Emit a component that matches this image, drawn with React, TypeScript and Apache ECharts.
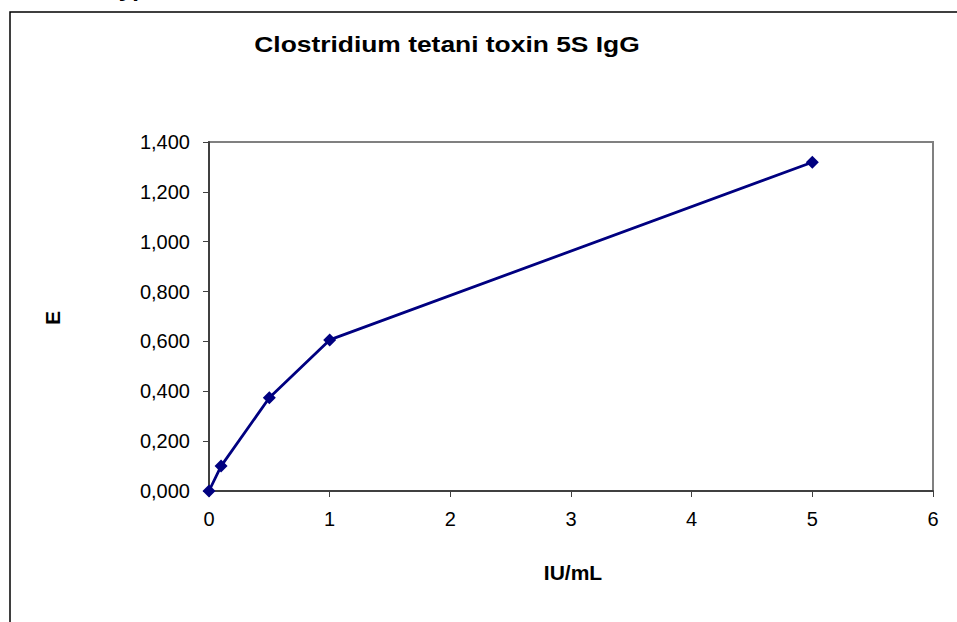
import React, { useEffect, useRef } from "react";
import * as echarts from "echarts";

const title = "Clostridium tetani toxin 5S IgG";
const xName = "IU/mL";
const yName = "E";
const concentrations = [0, 0.1, 0.5, 1, 5];
const absorbance = [0.0, 0.1, 0.374, 0.606, 1.319];

export default function App() {
  const ref = useRef<HTMLDivElement>(null);
  useEffect(() => {
    if (!ref.current) return;
    const chart = echarts.init(ref.current, null, { renderer: "svg" });
    const font = "Arial, 'Liberation Sans', sans-serif";
    chart.setOption({
      animation: false,
      backgroundColor: "#ffffff",
      grid: {
        left: 209,
        top: 142,
        width: 724,
        height: 349,
        show: true,
        borderColor: "#808080",
        borderWidth: 2,
        backgroundColor: "transparent",
      },
      xAxis: {
        type: "value",
        min: 0,
        max: 6,
        interval: 1,
        axisLine: { show: true, onZero: false, lineStyle: { color: "#404040", width: 2 } },
        axisTick: { show: true, inside: false, length: 6, lineStyle: { color: "#404040", width: 1 } },
        splitLine: { show: false },
        axisLabel: { color: "#000", fontSize: 20, fontFamily: font, margin: 18 },
      },
      yAxis: {
        type: "value",
        min: 0,
        max: 1.4,
        interval: 0.2,
        axisLine: { show: true, onZero: false, lineStyle: { color: "#404040", width: 2 } },
        axisTick: { show: true, inside: false, length: 6, lineStyle: { color: "#404040", width: 1 } },
        splitLine: { show: false },
        axisLabel: {
          color: "#000",
          fontSize: 20,
          fontFamily: font,
          margin: 19,
          formatter: (v: number) => v.toFixed(3).replace(".", ","),
        },
      },
      series: [
        {
          type: "line",
          data: concentrations.map((x, i) => [x, absorbance[i]]),
          symbol: "diamond",
          symbolSize: 13,
          showAllSymbol: true,
          lineStyle: { color: "#000080", width: 2.8 },
          itemStyle: { color: "#000080" },
          z: 5,
        },
      ],
      graphic: [
        {
          type: "rect",
          shape: { x: 10, y: 12, width: 1100, height: 800 },
          style: { fill: "none", stroke: "#000", lineWidth: 1.5 },
          silent: true,
        },
        {
          type: "text",
          x: 106,
          y: 0,
          scaleX: 1.2,
          style: {
            text: "Typical curve",
            font: `bold 20px ${font}`,
            fill: "#000",
            textVerticalAlign: "bottom",
          },
        },
        {
          type: "text",
          x: 447,
          y: 44,
          scaleX: 1.2,
          style: {
            text: title,
            font: `bold 22px ${font}`,
            fill: "#000",
            textAlign: "center",
            textVerticalAlign: "middle",
          },
        },
        {
          type: "text",
          x: 573,
          y: 572,
          style: {
            text: xName,
            font: `bold 21px ${font}`,
            fill: "#000",
            textAlign: "center",
            textVerticalAlign: "middle",
          },
        },
        {
          type: "text",
          x: 52,
          y: 318,
          rotation: Math.PI / 2,
          style: {
            text: yName,
            font: `bold 21px ${font}`,
            fill: "#000",
            textAlign: "center",
            textVerticalAlign: "middle",
          },
        },
      ],
    });
    return () => chart.dispose();
  }, []);
  return (
    <div
      ref={ref}
      style={{ position: "fixed", left: 0, top: 0, width: 957, height: 622, background: "#fff" }}
    />
  );
}
